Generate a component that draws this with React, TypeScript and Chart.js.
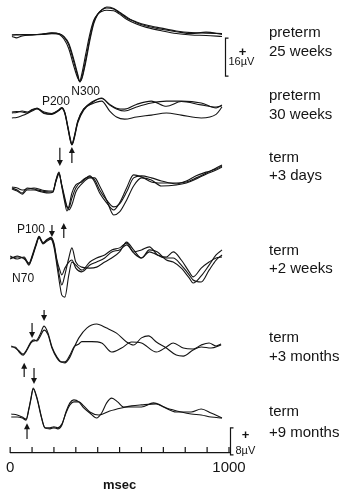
import { useEffect, useRef } from "react";
import { Chart, registerables } from "chart.js";

Chart.register(...registerables);

const FONT = "'Liberation Sans', Arial, Helvetica, sans-serif";
const INK = "#141414";

// ---------- data (µV, time in ms) ----------
// preterm 25 weeks
const t25 = [8, 30, 55, 100, 145, 190, 225, 245, 268, 291, 309, 318, 327, 345, 364, 382, 400, 418, 441, 473, 500, 532, 577, 623, 691, 759, 827, 895, 968];
const w25a = [0, 0.2, 0, 0, 0.2, 0.6, 0.4, -0.8, -4.2, -11.4, -17.3, -19.8, -18.1, -10.5, -1.3, 5.5, 8.8, 10.5, 11.4, 10.9, 9.3, 7.2, 5.5, 4.2, 2.9, 1.7, 1.0, 0.8, 0.6];
const w25b = [-0.6, -1.2, -0.4, 0, 0.4, 0.8, 0.2, -1.6, -5.8, -13.2, -18.2, -19.4, -16.6, -8.2, 0.4, 6.2, 8.8, 9.9, 10.4, 10.2, 8.8, 6.6, 4.6, 3.2, 1.8, 0.6, 0, -0.2, -0.6];
const w25c = [0, 0, 0.2, 0.2, 0.3, 0.9, 0.5, -0.6, -3.6, -10.4, -16.6, -19.6, -18.6, -11.6, -2.4, 4.8, 8.6, 10.6, 11.8, 11.2, 9.6, 7.6, 5.2, 3.8, 2.4, 1.4, 0.6, 1.2, 0.2];

// preterm 30 weeks
const t30 = [8, 30, 55, 78, 100, 123, 155, 190, 223, 236, 250, 264, 277, 282, 291, 309, 336, 373, 418, 455, 486, 523, 577, 645, 714, 782, 873, 941, 968];
const w30a = [0, 0.2, 0, -0.4, 0.8, 1.7, -0.4, -0.8, 0.8, 1.7, -0.4, -6.7, -12.6, -13.9, -11.8, -4.6, 0.8, 3.8, 5.9, 2.9, 1.3, 0.4, 2.1, 3.8, 4.6, 4.6, 3.8, 1.7, 2.9];
const w30b = [-0.4, -0.2, 0.4, 0, 1.0, 1.5, 0, -0.6, 1.0, 1.9, -0.2, -6.2, -12.2, -13.7, -11.4, -4.0, 1.2, 4.2, 5.7, 3.2, 1.6, 1.2, 3.2, 4.6, 2.4, 4.4, 3.0, 2.1, 2.6];
const w30c = [-2.5, -2.3, -1.5, -0.6, 0.4, 1.3, -0.6, -1.0, 0.6, 1.5, -0.8, -7.0, -12.8, -13.6, -11.0, -3.8, 1.3, 3.4, 4.6, 0.4, -2.1, -3.0, -2.1, -1.3, -0.4, -1.3, -2.5, -1.0, 2.1];

// term +3 days
const t3d = [8, 32, 55, 77, 109, 145, 177, 195, 209, 223, 236, 250, 259, 268, 282, 300, 327, 364, 386, 409, 441, 473, 500, 532, 564, 600, 645, 691, 759, 805, 850, 895, 941, 968];
const w3da = [0, -0.6, -1.5, 0, -0.3, -0.9, -1.2, -1.2, 2.4, 4.7, 0.3, -4.4, -6.8, -5.6, -1.5, 0.9, 1.8, 3.6, 1.8, -1.5, -4.4, -6.5, -4.4, 0, 3.9, 3.3, 1.8, 1.5, 1.5, 1.8, 3.0, 4.4, 5.9, 6.8];
const w3db = [0.3, 0, -0.6, -0.3, 0, -0.6, -0.9, -0.9, 2.1, 4.4, 0.6, -3.6, -5.6, -5.9, -3.0, 0, 2.1, 3.3, 2.4, -0.6, -3.6, -5.6, -4.7, -1.2, 3.0, 3.6, 3.0, 2.1, 1.2, 2.1, 3.6, 4.7, 5.6, 6.5];
const w3dc = [-0.3, -0.9, -1.8, -0.6, -0.6, -1.2, -1.5, -1.2, 1.8, 4.1, 0.9, -3.0, -5.3, -6.5, -5.0, -1.2, 1.2, 3.0, 3.0, 0.6, -3.6, -8.0, -7.1, -3.6, 0.6, 3.0, 2.4, 0.6, 0.9, 1.5, 2.7, 4.1, 5.3, 6.2];

// term +2 weeks
const t2w = [0, 32, 64, 86, 100, 118, 132, 150, 168, 186, 200, 214, 227, 236, 250, 268, 282, 300, 327, 364, 395, 432, 464, 500, 532, 564, 600, 636, 673, 714, 745, 782, 818, 836, 873, 909, 941, 968];
const w2wa = [0, 0.3, 0, -2.1, 0.3, 3.9, 6.2, 4.4, 5.3, 5.9, 3.9, -1.2, -5.9, -8.0, -5.0, 0, 3.0, -1.2, -2.7, -3.0, -2.7, -1.2, 0, 1.8, 4.7, 2.4, 0, 1.8, 0.9, 0.3, 1.8, -0.6, -4.1, -5.6, -3.0, -1.2, 0, 0.3];
const w2wb = [0.6, -0.3, 0.3, -1.8, 0, 3.6, 6.0, 4.2, 5.0, 5.6, 3.3, -2.4, -8.0, -11.0, -11.6, -5.0, -1.2, -2.1, -3.6, -1.2, 0, 0.9, 2.4, 3.0, 4.4, 1.8, 2.4, 3.3, 0.9, 0, 0, -2.1, -5.0, -6.5, -7.1, -3.6, -0.6, 0.9];
const w2wc = [-0.3, 0.6, -0.3, -1.5, 0.6, 4.2, 6.4, 4.6, 5.5, 6.1, 4.4, -0.6, -3.6, -5.0, -3.0, -1.2, -0.6, -3.0, -4.1, -2.1, -1.2, 0, 1.8, 2.4, 3.9, 1.5, 0, 2.4, 1.8, -0.6, -1.2, -3.0, -5.9, -7.4, -5.3, -2.1, 0.9, 2.4];

// term +3 months
const t3ma = [5, 23, 41, 59, 77, 95, 109, 123, 136, 155, 173, 191, 214, 232, 250, 273, 291, 314, 350, 395, 441, 486, 532, 564, 600, 632, 668, 714, 759, 791, 836, 873, 918, 964];
const w3ma = [0, 0, -1.5, -2.4, -0.9, 1.2, 1.8, 2.1, 3.6, 6.2, 4.1, 0, -3.0, -4.4, -4.7, -3.0, -0.3, 2.7, 5.6, 6.8, 5.6, 4.1, 1.5, 0.6, 2.7, 3.3, 1.5, -0.3, -2.4, -2.7, -0.9, 0, -0.3, 0.6];
const t3mb = [5, 23, 41, 59, 77, 95, 109, 123, 136, 155, 173, 191, 214, 232, 250, 273, 291, 314, 327, 373, 418, 464, 509, 555, 600, 668, 714, 745, 791, 836, 873, 909, 941, 964];
const w3mb = [0.3, -0.3, -1.2, -2.1, -0.6, 1.5, 2.1, 1.8, 3.0, 5.0, 3.6, -0.3, -3.3, -4.4, -4.4, -2.4, 0, 0.9, 1.6, 1.6, 1.2, -1.5, -0.3, 1.5, 1.2, -1.5, 0, 1.2, -0.3, -0.6, 0.6, 1.2, 0.3, 0.9];

// term +9 months
const t9ma = [5, 32, 55, 73, 86, 95, 105, 123, 141, 159, 182, 200, 218, 236, 255, 273, 291, 314, 336, 364, 395, 418, 441, 464, 491, 518, 555, 600, 655, 700, 759, 827, 873, 918, 968];
const w9ma = [-0.3, -0.6, -1.2, -1.8, 1.5, 4.4, 7.4, 4.4, -0.6, -4.4, -4.7, -4.4, -4.7, -3.6, 0.3, 3.0, 3.9, 3.3, 1.5, 0, -1.5, 0, 3.0, 4.4, 3.3, 1.8, 1.8, 1.8, 3.0, 1.8, 0.3, 0.3, 1.2, 0, -1.5];
const t9mb = [5, 32, 55, 73, 86, 95, 105, 123, 141, 159, 182, 200, 218, 236, 255, 273, 291, 314, 336, 364, 405, 455, 509, 555, 600, 668, 714, 782, 827, 873, 918, 968];
const w9mb = [-1.2, -1.2, -1.5, -2.1, 1.2, 4.1, 7.1, 4.1, -0.9, -4.4, -4.4, -4.1, -4.4, -3.3, 0, 2.4, 3.3, 3.3, 2.1, 0.3, -0.6, 0.6, 1.5, 2.1, 2.4, 2.7, 1.5, 0.3, -0.3, -0.6, -1.2, -1.5];

// axis ticks (ms)
const xTicks = [0, 100, 200, 300, 400, 500, 600, 700, 800, 900, 1000];
const xTickLabels = ["0", "", "", "", "", "", "", "", "", "", "1000"];

// group labels
const groupLabels = [
  ["preterm", "25 weeks"],
  ["preterm", "30 weeks"],
  ["term", "+3 days"],
  ["term", "+2 weeks"],
  ["term", "+3 months"],
  ["term", "+9 months"],
];

// ---------- layout (chart area 0..453 px tall) ----------
const AREA_TOP = 0;
const AREA_BOTTOM = 453;
const panels = [
  { id: "p1", base: 35, gain: 2.375 },
  { id: "p2", base: 112, gain: 2.375 },
  { id: "p3", base: 188, gain: 3.375 },
  { id: "p4", base: 258, gain: 3.375 },
  { id: "p5", base: 347, gain: 3.375 },
  { id: "p6", base: 413, gain: 3.375 },
];
const labelBaselines = [[37, 56], [100, 119], [162, 180], [255, 273], [342, 361], [416, 437]];

const traces = [
  { axis: "p1", t: t25, v: w25a }, { axis: "p1", t: t25, v: w25b }, { axis: "p1", t: t25, v: w25c },
  { axis: "p2", t: t30, v: w30a }, { axis: "p2", t: t30, v: w30b }, { axis: "p2", t: t30, v: w30c },
  { axis: "p3", t: t3d, v: w3da }, { axis: "p3", t: t3d, v: w3db }, { axis: "p3", t: t3d, v: w3dc },
  { axis: "p4", t: t2w, v: w2wa }, { axis: "p4", t: t2w, v: w2wb }, { axis: "p4", t: t2w, v: w2wc },
  { axis: "p5", t: t3ma, v: w3ma }, { axis: "p5", t: t3mb, v: w3mb },
  { axis: "p6", t: t9ma, v: w9ma }, { axis: "p6", t: t9mb, v: w9mb },
];

// annotations: arrows (axis, time, from µV, to µV -> head at "to")
const arrows = [
  { axis: "p2", t: 282, from: -21.5, to: -14.7 },
  { axis: "p3", t: 227, from: 11.9, to: 6.5 },
  { axis: "p3", t: 245, from: -14.8, to: -10.4 },
  { axis: "p4", t: 191, from: 9.8, to: 6.2 },
  { axis: "p5", t: 155, from: 11.0, to: 7.7 },
  { axis: "p5", t: 100, from: 7.1, to: 2.7 },
  { axis: "p5", t: 64, from: -8.9, to: -4.7 },
  { axis: "p6", t: 109, from: 13.3, to: 8.6 },
  { axis: "p6", t: 77, from: -7.7, to: -3.0 },
];
const peakLabels = [
  { axis: "p1", t: 345, v: -25.3, text: "N300" },
  { axis: "p2", t: 209, v: 2.9, text: "P200" },
  { axis: "p4", t: 95, v: 7.4, text: "P100" },
  { axis: "p4", t: 59, v: -7.1, text: "N70" },
];
const calibrations = [
  { axis: "p1", t: 980, from: -17.3, uv: 16, text: "16µV", plus: [17, -5], lab: [3, -11] },
  { axis: "p6", t: 1003, from: -12.4, uv: 8, text: "8µV", plus: [15, -6], lab: [5, -1] },
];

const decor = {
  id: "decor",
  afterDraw(chart: any) {
    const ctx = chart.ctx as CanvasRenderingContext2D;
    const xs = chart.scales.x;
    const area = chart.chartArea;
    ctx.save();
    ctx.strokeStyle = INK;
    ctx.fillStyle = INK;
    ctx.lineWidth = 1.2;
    // upward tick marks on time axis
    for (const v of xTicks) {
      const x = xs.getPixelForValue(v);
      ctx.beginPath();
      ctx.moveTo(x, area.bottom);
      ctx.lineTo(x, area.bottom - 6);
      ctx.stroke();
    }
    // calibration bars
    for (const c of calibrations) {
      const ys = chart.scales[c.axis];
      const x = Math.round(xs.getPixelForValue(c.t)) + 0.5;
      const y0 = ys.getPixelForValue(c.from);
      const y1 = ys.getPixelForValue(c.from + c.uv);
      ctx.beginPath();
      ctx.moveTo(x + 3, y1);
      ctx.lineTo(x, y1);
      ctx.lineTo(x, y0);
      ctx.lineTo(x + 3, y0);
      ctx.stroke();
      ctx.font = `bold 13px ${FONT}`;
      ctx.textAlign = "center";
      ctx.textBaseline = "middle";
      ctx.fillText("+", x + c.plus[0], (y0 + y1) / 2 + c.plus[1]);
      ctx.font = `11px ${FONT}`;
      ctx.textAlign = "left";
      ctx.textBaseline = "alphabetic";
      ctx.fillText(c.text, x + c.lab[0], y0 + c.lab[1]);
    }
    // arrows
    for (const a of arrows) {
      const ys = chart.scales[a.axis];
      const x = xs.getPixelForValue(a.t);
      const yf = ys.getPixelForValue(a.from);
      const yt = ys.getPixelForValue(a.to);
      const dir = yt > yf ? 1 : -1;
      ctx.beginPath();
      ctx.moveTo(x, yf);
      ctx.lineTo(x, yt - dir * 4);
      ctx.stroke();
      ctx.beginPath();
      ctx.moveTo(x, yt);
      ctx.lineTo(x - 3, yt - dir * 6);
      ctx.lineTo(x + 3, yt - dir * 6);
      ctx.closePath();
      ctx.fill();
    }
    // peak labels
    ctx.font = `12px ${FONT}`;
    ctx.textAlign = "center";
    ctx.textBaseline = "alphabetic";
    for (const p of peakLabels) {
      const ys = chart.scales[p.axis];
      ctx.fillText(p.text, xs.getPixelForValue(p.t), ys.getPixelForValue(p.v));
    }
    // group labels
    ctx.font = `15px ${FONT}`;
    ctx.textAlign = "left";
    groupLabels.forEach((lines, i) => {
      lines.forEach((s, j) => ctx.fillText(s, 269, labelBaselines[i][j]));
    });
    ctx.restore();
  },
};

export default function App() {
  const ref = useRef<HTMLCanvasElement | null>(null);
  useEffect(() => {
    if (!ref.current) return;
    const H = AREA_BOTTOM - AREA_TOP;
    const scales: any = {
      x: {
        type: "linear",
        position: "bottom",
        min: 0,
        max: 1000,
        afterFit: (s: any) => {
          s.height = 500 - AREA_BOTTOM;
        },
        afterBuildTicks: (s: any) => {
          s.ticks = xTicks.map((v) => ({ value: v }));
        },
        grid: { display: false, drawTicks: false },
        border: { display: true, color: INK, width: 1.2 },
        ticks: {
          autoSkip: false,
          maxRotation: 0,
          padding: 6,
          color: INK,
          font: { family: FONT, size: 15 },
          callback: (_v: any, i: number) => xTickLabels[i],
        },
        title: {
          display: true,
          text: "msec",
          color: INK,
          font: { family: FONT, size: 13, weight: "bold" },
          padding: { top: 0, bottom: 7 },
        },
      },
    };
    for (const p of panels) {
      scales[p.id] = {
        type: "linear",
        display: false,
        min: -(AREA_BOTTOM - p.base) / p.gain,
        max: (p.base - AREA_TOP) / p.gain,
      };
    }
    void H;
    const chart = new Chart(ref.current, {
      type: "line",
      data: {
        datasets: traces.map((tr) => ({
          data: tr.t.map((t, i) => ({ x: t, y: tr.v[i] })),
          yAxisID: tr.axis,
          borderColor: INK,
          borderWidth: 1.1,
          pointRadius: 0,
          fill: false,
          cubicInterpolationMode: "monotone" as const,
          clip: false as any,
        })),
      },
      options: {
        animation: false,
        responsive: false,
        devicePixelRatio: 1,
        parsing: false as any,
        layout: { padding: { left: 8, right: 123, top: AREA_TOP, bottom: 0 } },
        plugins: { legend: { display: false }, tooltip: { enabled: false } },
        scales,
      },
      plugins: [decor],
    });
    return () => chart.destroy();
  }, []);
  return (
    <div style={{ position: "absolute", left: 0, top: 0, width: 352, height: 500, background: "#fff" }}>
      <canvas ref={ref} width={352} height={500} style={{ display: "block" }} />
    </div>
  );
}
